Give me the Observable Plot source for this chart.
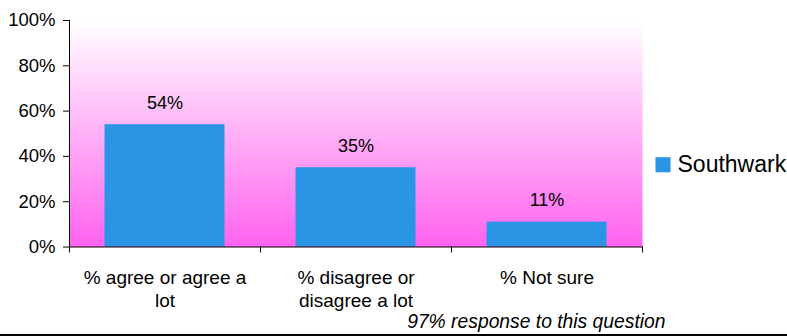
<!DOCTYPE html>
<html>
<head>
<meta charset="utf-8">
<script src="https://cdn.jsdelivr.net/npm/d3@7"></script>
<script src="https://cdn.jsdelivr.net/npm/@observablehq/plot@0.6"></script>
<style>
  html, body { margin: 0; padding: 0; background: #fff; }
  #chart { width: 787px; border-bottom: 2px solid #000; overflow: hidden; }
  #chart svg { display: block; overflow: hidden; }
</style>
</head>
<body>
<div id="chart"></div>
<script>
const categories = ["% agree or agree a\nlot", "% disagree or\ndisagree a lot", "% Not sure"];
const values = [54, 35, 11];
const valueLabels = ["54%", "35%", "11%"];
const seriesName = "Southwark";
const seriesColor = "#2a95e5";
const yTicks = [0, 20, 40, 60, 80, 100];
const caption = "97% response to this question";

const font = "Liberation Sans, Arial, sans-serif";
const idx = categories.map((_, i) => i);

const chart = Plot.plot({
  width: 787,
  height: 334,
  marginLeft: 69,
  marginRight: 145,
  marginTop: 20,
  marginBottom: 87.5,
  style: { fontFamily: font, fontSize: "18px", color: "#000", background: "transparent" },
  x: { type: "linear", domain: [0, categories.length] },
  y: { domain: [0, 100] },
  marks: [
    Plot.frame({ fill: "url(#bgGrad)", stroke: null }),
    Plot.rectY(idx, {
      x1: i => i, x2: i => i + 1, y: i => values[i],
      insetLeft: 35.5, insetRight: 35.5, fill: seriesColor
    }),
    Plot.text(idx, {
      x: i => i + 0.5, y: i => values[i], text: i => valueLabels[i],
      lineAnchor: "bottom", dy: -16, fontSize: 18, fill: "#000"
    }),
    Plot.axisY({ ticks: yTicks, tickFormat: d => d + "%", tickSize: 6, tickPadding: 8, label: null, fontSize: 18.5, stroke: "#000" }),
    Plot.axisX({ ticks: [0, 1, 2, 3], tickFormat: () => "", tickSize: 6, label: null, stroke: "#000" }),
    Plot.ruleX([0], { stroke: "#000" }),
    Plot.ruleY([0], { stroke: "#000" }),
    Plot.text(idx, {
      x: i => i + 0.5, y: 0, text: i => categories[i],
      lineAnchor: "top", dy: 20.5, lineHeight: 1.22, fontSize: 19, fill: "#000"
    }),
    Plot.dot([seriesName], {
      frameAnchor: "right", dx: 20.5, dy: 31, symbol: "square", r: 8.5,
      fill: seriesColor, stroke: null
    }),
    Plot.text([seriesName], {
      frameAnchor: "right", dx: 35, dy: 31, textAnchor: "start",
      fontSize: 23, fill: "#000"
    }),
    Plot.text([caption], {
      frameAnchor: "bottom-right", dx: 23, dy: 81, textAnchor: "end",
      lineAnchor: "bottom", fontSize: 19.3, fontStyle: "italic", fill: "#000"
    })
  ]
});

const ns = "http://www.w3.org/2000/svg";
const defs = document.createElementNS(ns, "defs");
const grad = document.createElementNS(ns, "linearGradient");
grad.setAttribute("id", "bgGrad");
grad.setAttribute("x1", "0"); grad.setAttribute("y1", "0");
grad.setAttribute("x2", "0"); grad.setAttribute("y2", "1");
[["0%", "#ffffff"], ["100%", "#ff62ef"]].forEach(([o, c]) => {
  const s = document.createElementNS(ns, "stop");
  s.setAttribute("offset", o);
  s.setAttribute("stop-color", c);
  grad.appendChild(s);
});
defs.appendChild(grad);
chart.insertBefore(defs, chart.firstChild);

document.getElementById("chart").appendChild(chart);
</script>
</body>
</html>
